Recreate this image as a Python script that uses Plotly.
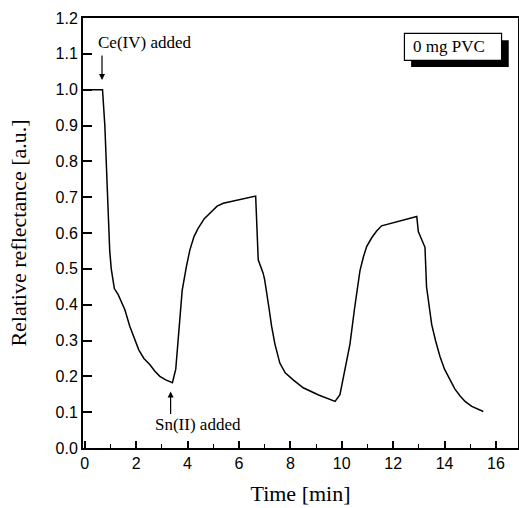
import plotly.graph_objects as go

time_min = [0.0, 0.69, 0.78, 0.84, 0.88, 0.93, 0.97, 1.03, 1.08, 1.15, 1.30, 1.45, 1.56, 1.75, 1.90,
            2.10, 2.30, 2.53, 2.72, 2.92, 3.15, 3.41, 3.54, 3.70, 3.79, 3.95, 4.09, 4.25, 4.41,
            4.65, 4.93, 5.15, 5.39, 6.00, 6.65, 6.75, 6.94, 7.00, 7.07, 7.17, 7.27, 7.40, 7.59,
            7.80, 8.11, 8.50, 9.10, 9.74, 9.93, 10.32, 10.50, 10.71, 10.85, 10.97, 11.16, 11.35,
            11.55, 12.20, 12.92, 12.98, 13.11, 13.24, 13.30, 13.40, 13.50, 13.65, 13.82, 14.00,
            14.21, 14.40, 14.60, 14.80, 15.06, 15.30, 15.51]
reflectance = [1.0, 1.0, 0.90, 0.80, 0.70, 0.61, 0.55, 0.50, 0.47, 0.445, 0.428, 0.405, 0.386, 0.34, 0.31,
               0.274, 0.25, 0.233, 0.215, 0.20, 0.19, 0.182, 0.22, 0.35, 0.44, 0.505, 0.553, 0.59, 0.613,
               0.64, 0.66, 0.675, 0.683, 0.693, 0.703, 0.525, 0.488, 0.47, 0.44, 0.39, 0.34, 0.29, 0.237,
               0.21, 0.19, 0.168, 0.148, 0.13, 0.149, 0.29, 0.39, 0.495, 0.535, 0.562, 0.586, 0.605,
               0.62, 0.633, 0.646, 0.604, 0.581, 0.56, 0.45, 0.39, 0.345, 0.30, 0.256, 0.22,
               0.19, 0.165, 0.146, 0.13, 0.116, 0.108, 0.102]

x_ticks = list(range(0, 17, 2))
y_ticks = [i / 10 for i in range(0, 13)]
y_labels = [f"{v:.1f}" for v in y_ticks]

serif = "Liberation Serif, Times New Roman, serif"
sans = "Liberation Sans, Arial, sans-serif"

fig = go.Figure()
fig.add_trace(go.Scatter(x=time_min, y=reflectance, mode="lines",
                         line=dict(color="black", width=1.5), showlegend=False))

fig.update_layout(
    width=519, height=508,
    margin=dict(l=83, r=1, t=18, b=60),
    plot_bgcolor="white", paper_bgcolor="white",
    xaxis=dict(range=[-0.07, 16.86], tickvals=x_ticks, ticks="inside", ticklen=7, tickwidth=1.5,
               tickcolor="black", showline=True, linecolor="black", linewidth=2, mirror=True,
               showgrid=False, zeroline=False, automargin=False,
               minor=dict(dtick=1, tick0=0, ticks="inside", ticklen=4, tickwidth=1.2, tickcolor="black"),
               tickfont=dict(family=sans, size=16, color="black"),
               title=dict(text="Time [min]", font=dict(family=serif, size=22, color="black"), standoff=14)),
    yaxis=dict(range=[0, 1.2], tickvals=y_ticks, ticktext=y_labels, ticks="inside", ticklen=9,
               tickwidth=1.5, tickcolor="black", showline=True, linecolor="black", linewidth=2,
               mirror=True, showgrid=False, zeroline=False, automargin=False,
               tickfont=dict(family=sans, size=16, color="black"),
               title=dict(text="Relative reflectance [a.u.]", font=dict(family=serif, size=22, color="black"),
                          standoff=23)),
)

# Ce(IV) arrow and label
fig.add_annotation(x=0.67, y=1.027, ax=0, ay=-26, showarrow=True, arrowhead=2, arrowsize=1,
                   arrowwidth=1.2, arrowcolor="black", text="")
fig.add_annotation(x=0.45, y=1.131, text="Ce(IV) added", showarrow=False, xanchor="left",
                   font=dict(family=serif, size=17, color="black"))
# Sn(II) arrow and label
fig.add_annotation(x=3.34, y=0.158, ax=0, ay=24, showarrow=True, arrowhead=2, arrowsize=1,
                   arrowwidth=1.2, arrowcolor="black", text="")
fig.add_annotation(x=2.66, y=0.065, text="Sn(II) added", showarrow=False, xanchor="left",
                   font=dict(family=serif, size=17, color="black"))

# label box with shadow
fig.add_shape(type="rect", x0=12.7, x1=16.5, y0=1.063, y1=1.138, fillcolor="black",
              line=dict(color="black", width=0))
fig.add_shape(type="rect", x0=12.44, x1=16.22, y0=1.082, y1=1.157, fillcolor="white",
              line=dict(color="black", width=1.2))
fig.add_annotation(x=12.7, y=1.12, text="0 mg PVC", showarrow=False, xanchor="left",
                   font=dict(family=serif, size=17, color="black"))

fig.write_html("out.html", config={"displayModeBar": False},
               post_script="document.body.style.margin='0';")
